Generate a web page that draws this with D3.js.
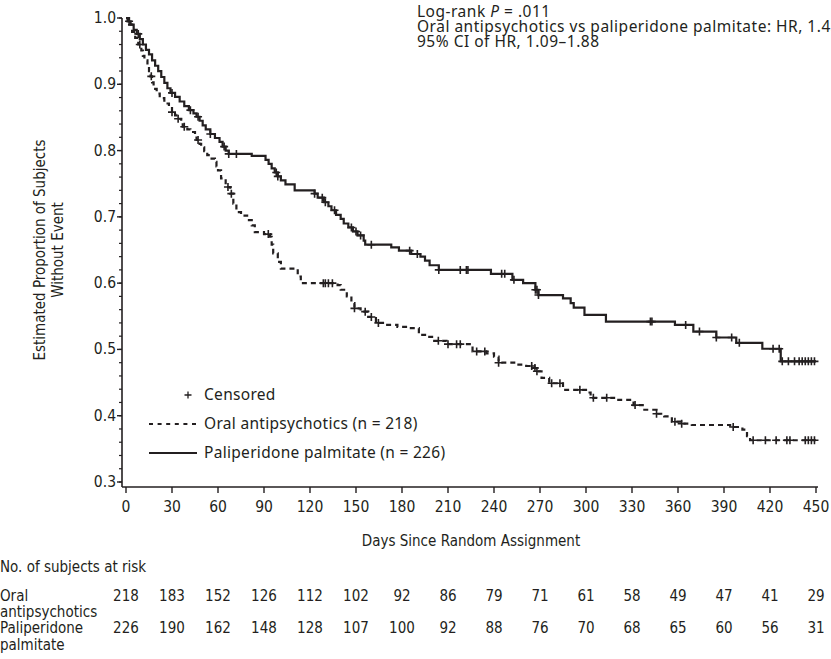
<!DOCTYPE html>
<html>
<head>
<meta charset="utf-8">
<script src="https://cdn.jsdelivr.net/npm/d3@7"></script>
<style>
  body { margin: 0; background: #fff; }
  text { fill: #231f20; }
  .narrow { font-family: "Liberation Sans Narrow", "DejaVu Sans Condensed", sans-serif; }
  .reg { font-family: "Noto Sans", Lato, sans-serif; }
</style>
</head>
<body>
<div id="km_chart"></div>
<script>
width = 831
height = 659

// x ticks (days) and y ticks
dayTicks = [0, 30, 60, 90, 120, 150, 180, 210, 240, 270, 300, 330, 360, 390, 420, 450]
yTicks = [0.3, 0.4, 0.5, 0.6, 0.7, 0.8, 0.9, 1.0]

// KM steps: [day, survival after step]
paliSteps = [[0, 1.0], [1, 0.995], [3, 0.99], [5, 0.982], [7, 0.976], [9, 0.968], [11, 0.96], [13, 0.952],
    [15, 0.945], [17, 0.936], [19, 0.928], [21, 0.92], [23, 0.911], [25, 0.902], [27, 0.894], [29, 0.887],
    [32, 0.881], [35, 0.874], [38, 0.867], [41, 0.861], [44, 0.856], [46, 0.851], [48, 0.845], [50, 0.838],
    [52, 0.832], [55, 0.825], [58, 0.819], [61, 0.813], [63, 0.806], [65, 0.8], [67, 0.795], [82, 0.792],
    [91, 0.786], [93, 0.78], [95, 0.773], [97, 0.767], [99, 0.761], [101, 0.755], [104, 0.749], [110, 0.74],
    [123, 0.735], [125, 0.729], [129, 0.722], [132, 0.716], [134, 0.71], [137, 0.703], [140, 0.697], [142, 0.69],
    [145, 0.684], [148, 0.678], [151, 0.672], [155, 0.664], [156, 0.658], [173, 0.654], [178, 0.649], [186, 0.644],
    [192, 0.64], [195, 0.634], [198, 0.627], [204, 0.62], [238, 0.614], [252, 0.605], [259, 0.6], [267, 0.59],
    [269, 0.582], [285, 0.577], [290, 0.57], [292, 0.563], [299, 0.552], [313, 0.542], [358, 0.537], [370, 0.527],
    [385, 0.518], [398, 0.51], [415, 0.501], [427, 0.482], [450, 0.482]]

oralSteps = [[0, 1.0], [2, 0.99], [4, 0.979], [6, 0.97], [8, 0.96], [10, 0.951], [11, 0.943], [12, 0.936],
    [14, 0.928], [15, 0.92], [16, 0.912], [17, 0.903], [18, 0.893], [20, 0.886], [22, 0.879], [25, 0.871],
    [28, 0.866], [30, 0.858], [32, 0.853], [34, 0.848], [36, 0.842], [37, 0.836], [40, 0.832], [42, 0.828],
    [45, 0.822], [46, 0.816], [48, 0.81], [49, 0.805], [51, 0.799], [53, 0.793], [55, 0.788], [58, 0.783],
    [59, 0.776], [60, 0.77], [62, 0.758], [65, 0.745], [68, 0.735], [70, 0.72], [72, 0.707], [75, 0.702],
    [79, 0.695], [82, 0.687], [84, 0.677], [90, 0.674], [94, 0.67], [95, 0.658], [96, 0.645], [99, 0.632],
    [101, 0.622], [112, 0.61], [114, 0.6], [138, 0.597], [140, 0.59], [144, 0.58], [147, 0.57], [149, 0.562],
    [153, 0.557], [158, 0.549], [163, 0.54], [169, 0.537], [177, 0.534], [184, 0.532], [191, 0.522], [197, 0.519],
    [201, 0.513], [209, 0.508], [226, 0.497], [235, 0.494], [240, 0.489], [243, 0.48], [255, 0.477], [261, 0.475],
    [265, 0.472], [268, 0.467], [271, 0.457], [276, 0.449], [285, 0.439], [300, 0.435], [303, 0.427], [320, 0.424],
    [331, 0.416], [337, 0.409], [346, 0.403], [351, 0.399], [356, 0.391], [362, 0.388], [369, 0.386], [394, 0.383],
    [402, 0.379], [405, 0.369], [407, 0.363], [450, 0.363]]

// censored times (days)
paliCensor = [2, 8, 30, 42, 47, 55, 64, 67, 72, 98, 99, 123, 128, 130, 136, 147, 150, 153, 160, 185, 190, 204,
    218, 222, 223, 245, 247, 253, 267, 268, 269, 342, 343, 365, 374, 385, 395, 400, 422, 426, 428, 432, 436,
    439, 441, 443, 445, 447, 449]
oralCensor = [9, 16.5, 30, 34, 38, 47, 66.5, 68.7, 92.8, 128.7, 130, 132, 134.6, 149, 156, 160, 164.6, 203.7,
    210, 215.6, 218, 228.7, 234, 243, 264.6, 266.7, 268, 277.6, 283, 296, 304.8, 313.5, 332, 346, 358, 362.4,
    396, 409, 417, 424, 431, 433, 443, 445, 447, 449]

// numbers at risk
oralAtRisk = [218, 183, 152, 126, 112, 102, 92, 86, 79, 71, 61, 58, 49, 47, 41, 29]
paliAtRisk = [226, 190, 162, 148, 128, 107, 100, 92, 88, 76, 70, 68, 65, 60, 56, 31]

legendLabels = ["Censored", "Oral antipsychotics (n = 218)", "Paliperidone palmitate (n = 226)"]

x = d3.scaleLinear([0, 450], [126, 816])
y = d3.scaleLinear([0.3, 1.0], [482, 18])
axisLeftX = 122
axisBottomY = 487

const svg = d3.select("#km_chart").append("svg")
    .attr("width", width)
    .attr("height", height)
    .attr("viewBox", [0, 0, width, height]);

// y axis with minor ticks every 0.02
const minorTicks = d3.range(30, 101, 2).map(v => v / 100)
svg.append("line")
    .attr("x1", axisLeftX).attr("x2", axisLeftX)
    .attr("y1", y(1.0)).attr("y2", axisBottomY)
    .attr("stroke", "#231f20").attr("stroke-width", 1.6)
svg.append("g")
    .selectAll("line")
    .data(minorTicks)
    .join("line")
    .attr("x1", axisLeftX - 3).attr("x2", axisLeftX)
    .attr("y1", d => y(d)).attr("y2", d => y(d))
    .attr("stroke", "#231f20").attr("stroke-width", 1.2)
svg.append("g")
    .selectAll("line")
    .data(yTicks)
    .join("line")
    .attr("x1", axisLeftX - 5).attr("x2", axisLeftX)
    .attr("y1", d => y(d)).attr("y2", d => y(d))
    .attr("stroke", "#231f20").attr("stroke-width", 1.4)
svg.append("g")
    .attr("class", "narrow")
    .selectAll("text")
    .data(yTicks)
    .join("text")
    .attr("x", axisLeftX - 6)
    .attr("y", d => y(d) + 5)
    .attr("text-anchor", "end")
    .attr("font-size", 15.5)
    .text(d => d.toFixed(1))

// x axis
svg.append("line")
    .attr("x1", axisLeftX).attr("x2", x(450) + 2)
    .attr("y1", axisBottomY).attr("y2", axisBottomY)
    .attr("stroke", "#231f20").attr("stroke-width", 1.6)
svg.append("g")
    .selectAll("line")
    .data(dayTicks)
    .join("line")
    .attr("x1", d => x(d)).attr("x2", d => x(d))
    .attr("y1", axisBottomY).attr("y2", axisBottomY + 6)
    .attr("stroke", "#231f20").attr("stroke-width", 1.4)
svg.append("g")
    .attr("class", "narrow")
    .selectAll("text")
    .data(dayTicks)
    .join("text")
    .attr("x", d => x(d))
    .attr("y", 512)
    .attr("text-anchor", "middle")
    .attr("font-size", 15.5)
    .text(d => d)

svg.append("text")
    .attr("class", "narrow")
    .attr("x", x(225)).attr("y", 546)
    .attr("text-anchor", "middle")
    .attr("font-size", 15)
    .text("Days Since Random Assignment")

// y title, two lines
svg.append("text")
    .attr("class", "narrow")
    .attr("transform", "translate(45,250) rotate(-90)")
    .attr("text-anchor", "middle")
    .attr("font-size", 15)
    .call(t => t.append("tspan").attr("x", 0).attr("dy", 0).text("Estimated Proportion of Subjects"))
    .call(t => t.append("tspan").attr("x", 0).attr("dy", 18).text("Without Event"))

// curves
const line = d3.line()
    .x(d => x(d[0]))
    .y(d => y(d[1]))
    .curve(d3.curveStepAfter)

svg.append("path")
    .datum(oralSteps)
    .attr("fill", "none")
    .attr("stroke", "#231f20")
    .attr("stroke-width", 2.2)
    .attr("stroke-dasharray", "5,4")
    .attr("d", line)

svg.append("path")
    .datum(paliSteps)
    .attr("fill", "none")
    .attr("stroke", "#231f20")
    .attr("stroke-width", 2.2)
    .attr("d", line)

bisectDay = d3.bisector(d => d[0]).right
function survAt(steps, t) {
    return steps[Math.max(0, bisectDay(steps, t) - 1)][1]
}

function censorMarks(times, steps) {
    svg.append("g")
        .attr("stroke", "#231f20")
        .attr("stroke-width", 1.6)
        .selectAll("path")
        .data(times)
        .join("path")
        .attr("d", t => {
            const cx = x(t), cy = y(survAt(steps, t))
            return `M${cx - 4},${cy}H${cx + 4}M${cx},${cy - 4}V${cy + 4}`
        })
}
censorMarks(oralCensor, oralSteps)
censorMarks(paliCensor, paliSteps)

// legend
const legend = svg.append("g").attr("class", "reg").attr("font-size", 15.5).attr("letter-spacing", 0.3)
legend.append("path")
    .attr("d", "M184.5,395H191.5M188,391.5V398.5")
    .attr("stroke", "#231f20").attr("stroke-width", 1.3)
legend.append("line")
    .attr("x1", 149).attr("x2", 197).attr("y1", 424).attr("y2", 424)
    .attr("stroke", "#231f20").attr("stroke-width", 2).attr("stroke-dasharray", "4,4.6")
legend.append("line")
    .attr("x1", 149).attr("x2", 197).attr("y1", 453).attr("y2", 453)
    .attr("stroke", "#231f20").attr("stroke-width", 2)
legend.selectAll("text")
    .data(legendLabels)
    .join("text")
    .attr("x", 204)
    .attr("y", (d, i) => 400 + i * 29)
    .text(d => d)

// log-rank annotation (runs off the right edge, as in the source)
const note = svg.append("g").attr("class", "reg").attr("font-size", 15.5).attr("letter-spacing", 0.5)
note.append("text").attr("x", 417).attr("y", 17)
    .call(t => t.append("tspan").text("Log-rank "))
    .call(t => t.append("tspan").attr("font-style", "italic").text("P"))
    .call(t => t.append("tspan").text(" = .011"))
note.append("text").attr("x", 417).attr("y", 32)
    .text("Oral antipsychotics vs paliperidone palmitate: HR, 1.43")
note.append("text").attr("x", 417).attr("y", 47)
    .text("95% CI of HR, 1.09\u20131.88")

// at-risk table
const table = svg.append("g").attr("class", "narrow").attr("font-size", 15)
table.append("text").attr("x", 0).attr("y", 572).text("No. of subjects at risk")
table.append("text").attr("x", 0).attr("y", 601).text("Oral")
table.append("text").attr("x", 0).attr("y", 617).text("antipsychotics")
table.append("text").attr("x", 0).attr("y", 633).text("Paliperidone")
table.append("text").attr("x", 0).attr("y", 650).text("palmitate")
table.append("g")
    .selectAll("text")
    .data(oralAtRisk)
    .join("text")
    .attr("x", (d, i) => x(dayTicks[i]))
    .attr("y", 601)
    .attr("text-anchor", "middle")
    .text(d => d)
table.append("g")
    .selectAll("text")
    .data(paliAtRisk)
    .join("text")
    .attr("x", (d, i) => x(dayTicks[i]))
    .attr("y", 633)
    .attr("text-anchor", "middle")
    .text(d => d)
</script>
</body>
</html>
